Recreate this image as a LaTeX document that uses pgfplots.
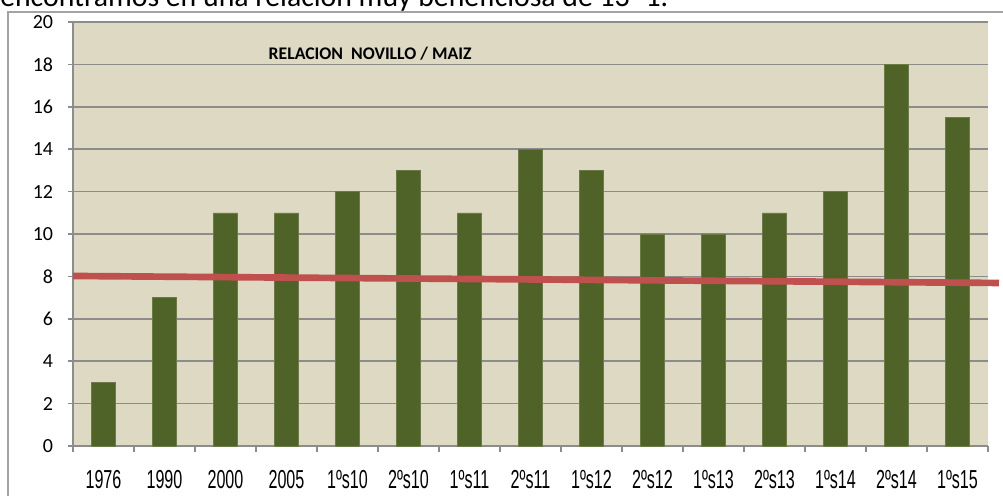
\documentclass[border=0pt]{standalone}
\usepackage{pgfplots}
\pgfplotsset{compat=1.18}
\usepackage{fontspec}
\setmainfont{Carlito}
\newfontfamily\arialf{Liberation Sans}
\definecolor{plotbg}{HTML}{DDD9C3}
\definecolor{barc}{HTML}{4F6228}
\definecolor{trend}{HTML}{C0504D}
\definecolor{gridc}{HTML}{8C8C8C}
\newcommand{\xl}[1]{\scalebox{0.62}[1]{#1}}
\begin{document}
\begin{tikzpicture}
\path[use as bounding box] (0pt,0pt) rectangle (752.25pt,372pt);
\draw[color=gridc!80, line width=0.9pt] (6pt,-15pt) -- (6pt,363pt) -- (765pt,363pt);
\node[anchor=base west, inner sep=0] at (0pt,367pt) {\resizebox{501pt}{!}{encontramos en una relación muy beneficiosa de 13 -1.}};
\begin{axis}[
  at={(54.75pt,37.5pt)}, anchor=south west, scale only axis,
  width=686.25pt, height=318pt,
  xmin=-0.5, xmax=14.5, ymin=0, ymax=20,
  axis background/.style={fill=plotbg},
  axis x line*=bottom, axis y line*=left,
  axis line style={draw=gridc, line width=1.1pt},
  ytick={0,2,...,20},
  ymajorgrids, grid style={draw=gridc, line width=1.1pt},
  tick align=outside,
  xtick={0,...,14},
  xticklabels={\xl{1976},\xl{1990},\xl{2000},\xl{2005},\xl{1ºs10},\xl{2ºs10},\xl{1ºs11},\xl{2ºs11},\xl{1ºs12},\xl{2ºs12},\xl{1ºs13},\xl{2ºs13},\xl{1ºs14},\xl{2ºs14},\xl{1ºs15}},
  minor xtick={-0.5,0.5,...,14.5},
  x tick style={draw=gridc, line width=1.1pt},
  y tick style={draw=gridc, line width=1.1pt},
  major x tick style={draw=none},
  minor tick length=4.5pt,
  major tick length=3.75pt,
  /pgf/number format/assume math mode=true,
  xticklabel style={anchor=center, inner sep=0pt, yshift=-21.75pt, font=\arialf\fontsize{19.5}{22}\selectfont},
  yticklabel style={font=\fontsize{15}{18}\selectfont, inner sep=0pt, xshift=-11pt},
  clip=false,
]
\addplot[ybar, bar width=18pt, fill=barc, draw=barc!80!plotbg, line width=0.4pt] coordinates {
 (0,3) (1,7) (2,11) (3,11) (4,12) (5,13) (6,11) (7,14) (8,13) (9,10) (10,10) (11,11) (12,12) (13,18) (14,15.5)
};
\addplot[trend, line width=5pt, line cap=butt] coordinates {(-0.5,8.02) (14.68,7.69)};
\node[font=\bfseries\fontsize{13.3}{15}\selectfont] at (axis cs:4.37,18.5) {RELACION\ \ NOVILLO / MAIZ};
\end{axis}
\end{tikzpicture}
\end{document}
